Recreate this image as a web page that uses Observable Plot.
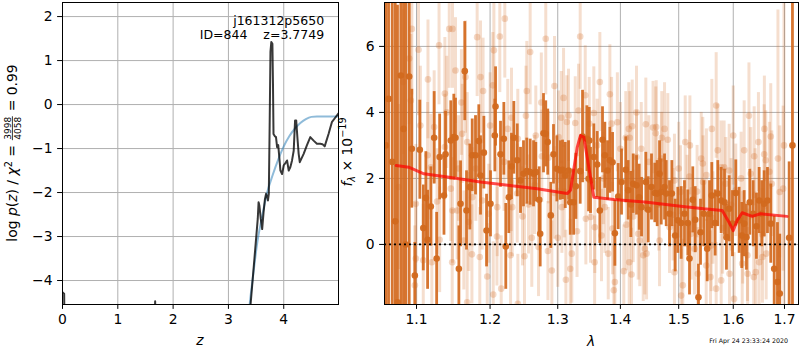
<!DOCTYPE html>
<html><head><meta charset="utf-8">
<script src="https://cdn.jsdelivr.net/npm/d3@7"></script>
<script src="https://cdn.jsdelivr.net/npm/@observablehq/plot@0.6"></script>
<style>
body{margin:0;background:#fff;}
#wrap{position:relative;width:800px;height:350px;font-family:"DejaVu Sans",sans-serif;overflow:hidden;background:#fff;}
#left,#right{position:absolute;top:0;}
#left{left:0}
#right{left:330px}
</style></head><body><div id="wrap"><div id="left"></div><div id="right"></div></div>
<script>
// ---------- Left panel: log p(z) ----------
const zTicks = [0, 1, 2, 3, 4];
const logpTicks = [-4, -3, -2, -1, 0, 1, 2];
const pzCurve = [[0,-4.27],[0.03,-4.3],[0.05,-7],[1.64,-7],[1.675,-4.47],[1.71,-7],[3.30,-6],[3.40,-4.55],[3.47,-3.5],[3.53,-2.6],[3.545,-2.22],[3.56,-2.3],[3.585,-2.6],[3.61,-2.83],[3.635,-2.45],[3.66,-2.15],[3.68,-2.03],[3.70,-2.1],[3.715,-2.18],[3.73,-2.03],[3.745,-0.5],[3.76,1.2],[3.775,1.42],[3.795,1.38],[3.805,0.5],[3.815,-0.67],[3.84,-0.72],[3.86,-0.74],[3.88,-0.97],[3.90,-0.92],[3.92,-1.2],[3.94,-1.5],[3.97,-1.58],[4.00,-1.38],[4.03,-1.33],[4.06,-1.27],[4.09,-1.5],[4.12,-1.42],[4.15,-1.27],[4.18,-1.05],[4.205,-0.36],[4.225,-0.36],[4.25,-0.8],[4.27,-1.12],[4.29,-1.31],[4.36,-1.12],[4.42,-0.92],[4.48,-0.74],[4.54,-0.82],[4.60,-0.89],[4.66,-0.89],[4.70,-0.9],[4.74,-0.95],[4.81,-0.67],[4.87,-0.40],[4.93,-0.3],[4.99,-0.2]];
const priorCurve = [[3.30,-6.0],[3.38,-4.6],[3.45,-3.85],[3.52,-3.15],[3.60,-2.6],[3.70,-2.0],[3.80,-1.6],[3.90,-1.25],[4.00,-0.95],[4.10,-0.72],[4.20,-0.55],[4.30,-0.42],[4.40,-0.33],[4.50,-0.28],[4.60,-0.27],[4.99,-0.27]];
const annot = [{z:4.73, v:1.91, t:"j161312p5650"}, {z:4.73, v:1.58, t:"ID=844\u00a0\u00a0\u00a0\u00a0z=3.7749"}];

// ---------- Right panel: spectrum ----------
const waveTicks = [1.1, 1.2, 1.3, 1.4, 1.5, 1.6, 1.7];
const fluxTicks = [0, 2, 4, 6];
// [wavelength (micron), flux (1e-19), error]
const darkSpec = [[1.0608,3.0,9],[1.0642,4.41,9],[1.0688,2.5,9],[1.0726,0.70,9],[1.0755,-1.75,9],[1.0798,5.12,9],[1.0832,3.5,9],[1.0861,0.0,9],[1.0905,5.09,9],[1.0939,2.9,1.8],[1.0978,-0.94,1.0],[1.1043,2.87,1.5],[1.1088,0.5,1.3],[1.1122,1.41,1.4],[1.1145,0.14,1.5],[1.1188,1.15,1.2],[1.1232,3.23,1.4],[1.1265,-0.43,1.4],[1.1305,2.65,1.3],[1.1363,1.48,1.2],[1.1384,2.73,1.3],[1.1455,3.15,1.2],[1.1496,3.25,1.3],[1.1519,3.23,1.2],[1.1565,-0.74,1.3],[1.1588,1.23,1.3],[1.1646,5.25,1.5],[1.1670,1.03,1.2],[1.1716,1.74,1.3],[1.1749,2.7,1.1],[1.1795,2.7,1.2],[1.1841,3.13,1.1],[1.1865,2.09,1.2],[1.1912,2.78,1.1],[1.1950,0.42,1.1],[1.2006,1.23,1.0],[1.2068,3.3,1.1],[1.2078,4.18,1.2],[1.2149,2.73,1.0],[1.2197,3.2,1.1],[1.2225,-0.06,1.3],[1.2269,1.43,1.1],[1.2308,2.36,1.0],[1.2342,3.23,1.1],[1.2392,2.55,1.1],[1.2440,1.94,1.0],[1.2484,2.14,1.0],[1.2533,2.22,1.0],[1.2583,2.19,1.0],[1.2633,2.14,1.0],[1.2667,2.19,0.9],[1.2718,1.35,1.0],[1.2733,0.32,1.0],[1.2783,3.37,1.2],[1.2817,3.35,1.0],[1.2847,3.1,1.0],[1.2894,0.88,1.0],[1.2935,2.73,0.9],[1.2986,2.29,1.0],[1.3038,2.24,0.9],[1.3074,2.26,0.9],[1.3116,2.09,1.0],[1.3167,2.24,0.9],[1.3194,1.28,1.0],[1.3246,1.28,1.0],[1.3282,1.76,1.0],[1.3350,2.22,1.0],[1.3387,3.27,1.4],[1.3456,3.2,1.0],[1.3483,1.99,1.0],[1.3494,3.15,1.0],[1.3514,1.94,1.0],[1.3567,2.65,1.0],[1.3622,2.42,1.0],[1.3664,1.03,1.0],[1.3707,3.17,1.0],[1.3745,2.7,1.0],[1.3789,2.24,0.9],[1.3827,2.55,1.0],[1.3871,2.49,0.9],[1.3909,0.34,1.0],[1.3964,1.45,1.0],[1.4019,1.89,1.0],[1.4090,2.26,1.0],[1.4130,1.64,0.9],[1.4174,1.21,1.0],[1.4214,1.84,0.9],[1.4270,1.79,0.9],[1.4315,1.43,1.0],[1.4355,1.13,0.9],[1.4428,1.89,0.9],[1.4469,1.05,1.0],[1.4525,1.74,1.0],[1.4582,1.56,0.9],[1.4623,1.54,1.0],[1.4664,2.14,1.0],[1.4693,1.59,1.0],[1.4751,1.74,1.0],[1.4780,1.54,1.0],[1.4838,0.93,1.0],[1.4879,1.54,1.0],[1.4938,0.27,1.1],[1.4984,0.73,1.0],[1.5044,0.65,1.1],[1.5103,0.93,1.0],[1.5163,0.65,1.0],[1.5193,-0.43,1.1],[1.5252,1.35,1.0],[1.5296,0.75,1.0],[1.5355,-1.6,1.0],[1.5392,0.37,1.0],[1.5452,0.93,1.0],[1.5514,-0.13,1.0],[1.5557,0.93,1.0],[1.5599,1.48,1.0],[1.5661,0.65,1.0],[1.5710,1.54,1.0],[1.5773,1.33,1.0],[1.5835,1.28,1.0],[1.5872,0.22,1.0],[1.5923,1.08,1.0],[1.5985,0.63,1.0],[1.6048,1.56,1.0],[1.6112,0.73,1.0],[1.6162,0.27,1.0],[1.6208,0.63,1.0],[1.6252,0.22,1.0],[1.6316,1.28,1.0],[1.6381,0.93,1.0],[1.6445,0.55,1.0],[1.6498,1.33,1.0],[1.6549,0.93,1.0],[1.6596,1.23,1.0],[1.6661,1.33,1.0],[1.6726,0.63,1.2],[1.6794,-0.74,1.6],[1.6859,-1.14,1.8],[1.6905,-1.49,1.8],[1.7094,0.2,2.3],[1.7161,3.0,9]];
const lightSpec = [[1.0939,6.53,2.0],[1.1026,5.9,2.0],[1.0905,5.63,2.0],[1.0829,4.92,2.2],[1.0926,4.36,2.0],[1.1297,6.03,1.8],[1.1434,6.53,1.8],[1.1478,6.53,1.8],[1.1375,4.57,1.7],[1.1232,3.56,1.7],[1.1145,2.7,1.6],[1.1188,2.34,1.6],[1.0768,1.74,2.5],[1.0991,1.23,1.8],[1.1455,1.69,1.6],[1.1478,1.03,1.6],[1.0991,-0.43,1.7],[1.1088,-0.48,1.7],[1.1201,-0.54,1.6],[1.1305,0.14,1.6],[1.0978,-1.24,1.8],[1.1375,2.95,1.6],
[1.1519,5.27,1.6],[1.1656,5.07,1.7],[1.1818,6.28,1.8],[1.1901,4.65,1.6],[1.2039,4.82,1.6],[1.2054,5.88,1.7],[1.2139,6.3,1.7],[1.2211,6.84,1.8],[1.2308,3.84,1.5],[1.2254,3.5,1.5],[1.1611,3.35,1.5],[1.1680,3.1,1.5],[1.1542,1.03,1.5],[1.1749,1.43,1.5],[1.1888,1.33,1.5],[1.1981,0.93,1.5],[1.2102,1.13,1.5],[1.2318,1.13,1.5],[1.1633,0.12,1.5],[1.1745,-0.3,1.5],[1.1855,-0.38,1.5],[1.1474,-0.54,1.6],[1.1960,-0.97,1.6],[1.2045,-1.52,1.6],[1.2159,-1.34,1.6],[1.2294,-0.33,1.5],[1.1702,0.68,1.5],[1.2098,0.24,1.5],[1.2392,1.54,1.5],[1.2304,1.89,1.5],
[1.2499,-0.36,1.5],[1.2533,4.65,1.5],[1.2583,5.83,1.6],[1.2607,0.2,1.5],[1.2667,3.3,1.5],[1.2708,-0.08,1.5],[1.2817,6.23,1.7],[1.2859,2.63,1.4],[1.2910,-0.79,1.5],[1.3012,3.25,1.4],[1.3054,3.84,1.4],[1.3090,4.44,1.5],[1.3126,-1.07,1.5],[1.3141,3.71,1.4],[1.3167,3.91,1.4],[1.3194,-0.74,1.5],[1.3218,-0.28,1.5],[1.3272,3.68,1.4],[1.3350,6.3,1.6],[1.3324,4.06,1.4],[1.3430,4.52,1.5],[1.3440,0.78,1.4],[1.2469,0.85,1.5],[1.2558,1.21,1.5],[1.2758,2.67,1.4],[1.2951,1.56,1.4],[1.3064,1.13,1.4],
[1.3664,4.92,1.5],[1.3827,4.55,1.5],[1.3494,3.66,1.4],[1.3567,3.98,1.4],[1.3855,3.66,1.4],[1.4090,3.23,1.4],[1.4157,3.23,1.4],[1.4197,3.58,1.4],[1.4270,2.65,1.4],[1.4428,3.64,1.4],[1.4552,3.54,1.4],[1.4599,3.37,1.4],[1.3583,0.52,1.4],[1.3691,0.27,1.4],[1.3800,-0.28,1.4],[1.3871,0.48,1.4],[1.3580,-0.54,1.4],[1.3909,-1.14,1.4],[1.3892,-1.39,1.4],[1.4057,-0.81,1.4],[1.4147,-0.54,1.4],[1.4186,-0.91,1.4],[1.4298,0.32,1.4],[1.4325,0.12,1.4],[1.4411,-0.13,1.4],[1.4384,-0.33,1.4],[1.4440,-0.28,1.4],[1.3514,0.83,1.4],[1.3745,1.13,1.4],[1.4214,0.85,1.4],
[1.4606,3.56,1.4],[1.4703,3.23,1.4],[1.4751,3.5,1.4],[1.4808,3.17,1.4],[1.5116,3.1,1.4],[1.5405,2.6,1.4],[1.5434,2.45,1.4],[1.5680,4.21,1.6],[1.5710,2.85,1.4],[1.5773,2.34,1.4],[1.4925,1.94,1.4],[1.5032,1.59,1.4],[1.5193,2.06,1.4],[1.5440,1.89,1.4],[1.4838,0.52,1.4],[1.4664,0.12,1.4],[1.4925,-0.84,1.4],[1.5073,-1.24,1.4],[1.5044,-1.55,1.4],[1.5283,-0.13,1.4],[1.5343,-0.89,1.4],[1.5496,-0.64,1.4],[1.5680,-1.34,1.4],[1.5773,-1.09,1.4],[1.5588,-0.03,1.4],[1.5224,0.32,1.4],
[1.6208,2.85,1.5],[1.6484,3.1,1.5],[1.6726,3.27,1.6],[1.6596,2.73,1.5],[1.6401,2.67,1.5],[1.6627,2.55,1.5],[1.5923,2.24,1.4],[1.5828,2.34,1.4],[1.5859,1.84,1.4],[1.6335,2.14,1.4],[1.6746,1.84,1.6],[1.6905,1.59,2.0],[1.6973,1.69,2.5],[1.6048,1.64,1.4],[1.6271,-0.33,1.4],[1.6432,-0.84,1.4],[1.6016,-1.65,1.4],[1.6562,-0.38,1.4],[1.6275,-0.89,1.4],[1.5930,-0.89,1.4],[1.6498,-0.54,1.4],[1.6635,-0.28,1.4],[1.6869,2.6,4.5],[1.6990,3.0,5.5],
[1.1865,5.07,1.7],[1.4140,3.5,1.4],[1.1679,-1.75,1.6],[1.2401,-1.8,1.5],[1.5575,-0.99,1.4],[1.6170,-0.58,1.4],[1.6393,-0.99,1.4],[1.4650,1.2,1.4],[1.4900,0.9,1.4],[1.5000,2.3,1.4],[1.5150,1.3,1.4],[1.5330,1.6,1.4],[1.5500,2.1,1.4],[1.5620,0.8,1.4],[1.5960,1.2,1.4],[1.6150,2.0,1.4],[1.6420,1.5,1.4],[1.6700,2.2,1.5],[1.6560,0.3,1.4],[1.6180,0.2,1.4],[1.5800,0.5,1.4],[1.4480,2.5,1.4],[1.4350,2.9,1.4],[1.4000,2.9,1.4],[1.3950,3.7,1.5],[1.3720,2.0,1.4],[1.4100,0.6,1.4],[1.3000,0.2,1.5],[1.2850,-0.2,1.5],[1.2650,1.8,1.5],[1.2400,3.2,1.5],[1.2200,2.5,1.5],[1.2000,3.6,1.6],[1.1800,2.3,1.6],[1.1600,4.3,1.6],[1.1400,4.0,1.7],[1.1150,5.0,1.8],[1.1050,3.6,1.8],[1.1270,1.3,1.6],[1.1560,2.3,1.6],[1.2520,3.9,1.5],[1.2750,4.3,1.5],[1.2950,4.8,1.5],[1.3100,1.6,1.4],[1.3300,0.4,1.4],[1.3620,3.0,1.4],[1.4270,4.0,1.4],[1.4700,2.6,1.4],[1.5200,3.0,1.5],[1.5600,3.5,1.5],[1.6000,3.3,1.5],[1.6300,3.9,1.6],[1.6600,3.5,1.6]];
const modelLine = [[1.0739,2.39],[1.0899,2.34],[1.1096,2.14],[1.1407,2.04],[1.1865,1.89],[1.2342,1.77],[1.2688,1.69],[1.3147,1.54],[1.3198,1.64],[1.3304,2.95],[1.3355,3.30],[1.3408,3.25],[1.3487,2.34],[1.3567,1.43],[1.3892,1.36],[1.4452,1.28],[1.5032,1.16],[1.5452,1.08],[1.5792,1.03],[1.5917,0.68],[1.6000,0.42],[1.6076,0.73],[1.6170,0.96],[1.6362,0.85],[1.6523,0.93],[1.7053,0.85]];
const timestamp = "Fri Apr 24 23:33:24 2020";

const FONT = "DejaVu Sans";
const minus = d => d < 0 ? "\u2212" + (-d) : String(d);
const grid = {stroke: "#b0b0b0", strokeOpacity: 1, strokeWidth: 1};
const tick = {tickSize: 4.9, tickPadding: 5, label: null};
const ORANGE = "#d2691e";

const pzData = pzCurve.map(([z, v]) => ({z, v}));
const priorData = priorCurve.map(([z, v]) => ({z, v}));

const left = Plot.plot({
  width: 345, height: 350,
  marginLeft: 62, marginRight: 7, marginTop: 2, marginBottom: 46,
  style: {fontFamily: FONT, fontSize: "13.9px", color: "black", background: "transparent", overflow: "visible"},
  x: {domain: [0, 4.99]},
  y: {domain: [-4.545, 2.32]},
  marks: [
    Plot.gridX(zTicks, grid),
    Plot.gridY(logpTicks, grid),
    Plot.line(priorData, {x: "z", y: "v", stroke: "#1f77b4", strokeOpacity: 0.5, strokeWidth: 2, curve: "monotone-x", clip: true}),
    Plot.line(pzData, {x: "z", y: "v", stroke: "black", strokeOpacity: 0.78, strokeWidth: 2, clip: true}),
    Plot.axisX(zTicks, {...tick, tickFormat: d => String(d)}),
    Plot.axisY(logpTicks, {...tick, tickFormat: minus}),
    Plot.frame({stroke: "black", strokeWidth: 1}),
    Plot.text(annot, {x: "z", y: "v", text: "t", textAnchor: "end", lineAnchor: "middle", fontSize: 12.5, fill: "black"})
  ]
});
document.getElementById("left").append(left);

const toObj = ([w, f, e]) => ({w, f, e});
const darkData = darkSpec.map(toObj);
const lightData = lightSpec.map(toObj);
const modelData = modelLine.map(([w, f]) => ({w, f}));

const right = Plot.plot({
  width: 470, height: 350,
  marginLeft: 54, marginRight: 2, marginTop: 2, marginBottom: 46,
  style: {fontFamily: FONT, fontSize: "13.9px", color: "black", background: "transparent", overflow: "visible"},
  x: {type: "log", domain: [1.0591, 1.7284]},
  y: {domain: [-1.82, 7.33]},
  marks: [
    Plot.gridX(waveTicks, grid),
    Plot.gridY(fluxTicks, grid),
    Plot.ruleX(lightData, {x: "w", y1: d => d.f - d.e, y2: d => d.f + d.e, stroke: ORANGE, strokeOpacity: 0.22, strokeWidth: 3, clip: true}),
    Plot.dot(lightData, {x: "w", y: "f", r: 3.3, fill: ORANGE, fillOpacity: 0.25, stroke: "none", clip: true}),
    Plot.ruleX(darkData, {x: "w", y1: d => d.f - d.e, y2: d => d.f + d.e, stroke: ORANGE, strokeOpacity: 0.92, strokeWidth: 2.8, clip: true}),
    Plot.dot(darkData, {x: "w", y: "f", r: 3.3, fill: ORANGE, fillOpacity: 0.95, stroke: "none", clip: true}),
    Plot.line(modelData, {x: "w", y: "f", stroke: "red", strokeOpacity: 0.7, strokeWidth: 3, clip: true}),
    Plot.ruleY([0], {stroke: "black", strokeWidth: 1.8, strokeDasharray: "2,3"}),
    Plot.axisX(waveTicks, {...tick, tickFormat: d3.format(".1f")}),
    Plot.axisY(fluxTicks, {...tick, tickFormat: minus}),
    Plot.frame({stroke: "black", strokeWidth: 1})
  ]
});
document.getElementById("right").append(right);

// ---------- text labels ----------
const L = d3.select(left), R = d3.select(right);
L.append("text").attr("x", 200).attr("y", 345).attr("text-anchor", "middle")
  .attr("font-family", FONT).attr("font-size", 13.9).attr("font-style", "italic").text("z");
R.append("text").attr("x", 261).attr("y", 346).attr("text-anchor", "middle")
  .attr("font-family", FONT).attr("font-size", 13.9).attr("font-style", "italic").text("λ");
R.append("text").attr("x", 458).attr("y", 343).attr("text-anchor", "end")
  .attr("font-family", FONT).attr("font-size", 6.3).text(timestamp);

// left y label with fraction
{
  const outer = L.append("g").attr("transform", "translate(17,153) rotate(-90)")
    .attr("font-family", FONT).attr("font-size", 13.9).attr("fill", "black").attr("text-anchor", "start");
  const g = outer.append("g");
  const t1 = g.append("text").attr("text-anchor", "start");
  t1.append("tspan").text("log\u00a0");
  t1.append("tspan").attr("font-style", "italic").text("p");
  t1.append("tspan").text("(");
  t1.append("tspan").attr("font-style", "italic").text("z");
  t1.append("tspan").text(")\u00a0/\u00a0");
  t1.append("tspan").attr("font-style", "italic").text("χ");
  t1.append("tspan").attr("font-size", 9.7).attr("dy", -5.5).text("2");
  t1.append("tspan").attr("dy", 5.5).text("\u00a0=\u00a0");
  const w1 = t1.node().getComputedTextLength();
  const num = g.append("text").attr("text-anchor", "start").attr("font-size", 9).attr("y", -6.5).text("3998");
  const fw = num.node().getComputedTextLength();
  num.attr("x", w1 + 1);
  g.append("text").attr("text-anchor", "start").attr("font-size", 9).attr("x", w1 + 1).attr("y", 4).text("4058");
  g.append("line").attr("x1", w1 + 0.5).attr("x2", w1 + fw + 1.5).attr("y1", -4.6).attr("y2", -4.6)
    .attr("stroke", "black").attr("stroke-width", 0.8);
  const t3 = g.append("text").attr("text-anchor", "start").attr("x", w1 + fw + 2).text("\u00a0=\u00a00.99");
  const W = w1 + fw + 2 + t3.node().getComputedTextLength();
  g.attr("transform", `translate(${-W / 2},0)`);
}
// right y label
{
  const outer = R.append("g").attr("transform", "translate(22,152) rotate(-90)")
    .attr("font-family", FONT).attr("font-size", 13.9).attr("fill", "black");
  const t = outer.append("text").attr("text-anchor", "middle");
  t.append("tspan").attr("font-style", "italic").text("f");
  t.append("tspan").attr("font-size", 9.7).attr("font-style", "italic").attr("dy", 3).text("λ");
  t.append("tspan").attr("dy", -3).text("\u00a0×\u00a010");
  t.append("tspan").attr("font-size", 9.7).attr("dy", -6).text("\u221219");
}
</script>
</body></html>
